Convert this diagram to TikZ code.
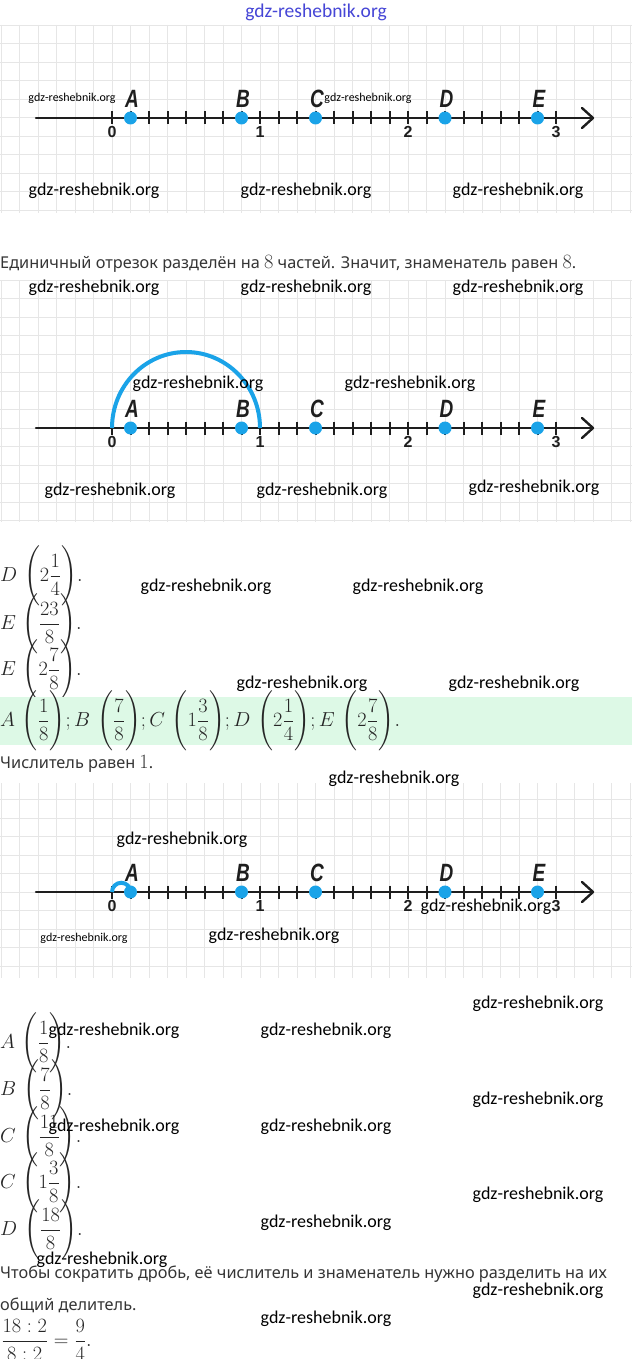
\RequirePackage{fix-cm}
\documentclass[tikz,border=0pt]{standalone}
\usepackage{amsmath}
\usepackage[no-math]{fontspec}
\newfontfamily\wmf{Carlito}
\newfontfamily\lblf{Liberation Sans}
\newfontfamily\ruf{Noto Sans}
\definecolor{dotblue}{HTML}{1AA3E8}
\definecolor{gridc}{HTML}{E6E6E6}
\definecolor{bandc}{HTML}{DDF9E6}
\definecolor{txtc}{HTML}{353535}
\definecolor{wmblue}{HTML}{4646D6}
\definecolor{axisc}{HTML}{1E1E1E}
\newcommand\mth[1]{\scalebox{1.16}{\fontsize{17.5}{18}\selectfont$#1$}}
\newcommand\mathbox[1]{\scalebox{1.16}{$#1$}}
\newcommand\numaxis[3]{%
  \coordinate (s#2) at (36,#1);
  \coordinate (e#2) at (593,#1);
  \coordinate (z#2) at (112,#1);
  \foreach \k in {0,...,24}{\draw[tickline] (112+18.5*\k,#1-6.5) -- (112+18.5*\k,#1+6.5);}
  \draw[axisline] (s#2) -- (e#2);
  \draw[axisline] ([shift={(-11,-10)}]e#2) -- (e#2) -- ([shift={(-11,10)}]e#2);
  \foreach \n in {0,1,2,3}{\node[numlbl] (n\n#2) at (112+148*\n,#1+14) {\n};}
  #3
  \foreach \p/\k in {A/1,B/7,C/11,D/18,E/23}{%
    \node[dotn] (\p#2) at (112+18.5*\k,#1) {};
    \node[ptlbl] (l\p#2) at (113.5+18.5*\k,#1-19.5) {\scalebox{0.76}[1]{\p}};
  }%
}
\newcommand\gridarea[3]{% top, bottom, axis y
  \begin{scope}
    \clip (0,#1) rectangle (632,#2);
    \foreach \k in {-7,...,28}{\draw[gridline] (112+18.5*\k,#1) -- (112+18.5*\k,#2);}
    \foreach \k in {-8,...,8}{\draw[gridline] (0,#3+18.5*\k) -- (632,#3+18.5*\k);}
  \end{scope}%
}
\begin{document}
\begin{tikzpicture}[x=1pt,y=-1pt,
  gridline/.style={draw=gridc, line width=1pt},
  axisline/.style={draw=axisc, line width=2.4pt, line cap=round, line join=round},
  tickline/.style={draw=axisc, line width=2pt},
  dotn/.style={circle, fill=dotblue, minimum size=13pt, inner sep=0},
  arcline/.style={draw=dotblue, line width=4pt},
  ptlbl/.style={font=\lblf\bfseries\itshape\fontsize{25}{25}\selectfont, text=axisc, inner sep=0},
  numlbl/.style={font=\lblf\bfseries\fontsize{16}{16}\selectfont, text=axisc, inner sep=0},
  wm/.style={font=\wmf\fontsize{18}{18}\selectfont, text=black, inner sep=0},
  wms/.style={font=\wmf\fontsize{12}{12}\selectfont, text=black, inner sep=0},
  rutxt/.style={font=\ruf\fontsize{16.3}{18}\selectfont, text=txtc, inner sep=0, anchor=base west},
  mathn/.style={font=\fontsize{17.5}{23}\selectfont, text=black!85, inner sep=0, anchor=west}]
\fill[white] (0,0) rectangle (632,1359);
\useasboundingbox (0,0) rectangle (632,1359);
% grids
\gridarea{25}{213}{118}
\gridarea{280}{522}{428}
\gridarea{783}{978}{892}
% number lines
\numaxis{118}{a}{}
\numaxis{428}{b}{\draw[arcline] (zb) arc[start angle=180,end angle=360,x radius=74,y radius=76];}
\numaxis{892}{c}{\draw[arcline] (zc) arc[start angle=180,end angle=360,radius=9.25];}
% texts
\node[rutxt] (t1) at (0,268) {Единичный отрезок разделён на \mth{8} частей. Значит, знаменатель равен \mth{8}.};
\node[mathn] (m1) at (0,576) {\mathbox{D\mkern6mu\Biggl(2\dfrac{1}{4}\Biggr).}};
\node[mathn] (m2) at (0,624) {\mathbox{E\mkern6mu\Biggl(\dfrac{23}{8}\Biggr).}};
\node[mathn] (m3) at (0,670) {\mathbox{E\mkern6mu\Biggl(2\dfrac{7}{8}\Biggr).}};
\node[fill=bandc, minimum width=632pt, minimum height=48pt, inner sep=0, anchor=north west] (band) at (0,697) {};
\node[mathn] (m4) at (0,721) {\mathbox{A\mkern6mu\Biggl(\dfrac{1}{8}\Biggr);B\mkern6mu\Biggl(\dfrac{7}{8}\Biggr);C\mkern6mu\Biggl(1\dfrac{3}{8}\Biggr);D\mkern6mu\Biggl(2\dfrac{1}{4}\Biggr);E\mkern6mu\Biggl(2\dfrac{7}{8}\Biggr).}};
\node[rutxt] (t2) at (0,768) {Числитель равен \mth{1}.};
\node[mathn] (m5) at (0,1043) {\mathbox{A\mkern6mu\Biggl(\dfrac{1}{8}\Biggr).}};
\node[mathn] (m6) at (0,1090) {\mathbox{B\mkern6mu\Biggl(\dfrac{7}{8}\Biggr).}};
\node[mathn] (m7) at (0,1137) {\mathbox{C\mkern6mu\Biggl(\dfrac{11}{8}\Biggr).}};
\node[mathn] (m8) at (0,1183) {\mathbox{C\mkern6mu\Biggl(1\dfrac{3}{8}\Biggr).}};
\node[mathn] (m9) at (0,1230) {\mathbox{D\mkern6mu\Biggl(\dfrac{18}{8}\Biggr).}};
\node[rutxt] (t3) at (0,1278) {Чтобы сократить дробь, её числитель и знаменатель нужно разделить на их};
\node[rutxt] (t4) at (0,1310) {общий делитель.};
\node[mathn] (m10) at (1,1340) {\mathbox{\dfrac{18:2}{8:2}=\dfrac{9}{4}.}};
% watermarks
\node[font=\wmf\fontsize{19.5}{20}\selectfont, text=wmblue, inner sep=0] (wtop) at (316,12) {gdz-reshebnik.org};
\node[wms] (w1) at (72,98) {gdz-reshebnik.org};
\node[wms] (w2) at (368,98) {gdz-reshebnik.org};
\node[wms] (w3) at (84,938) {gdz-reshebnik.org};
\foreach \x/\y [count=\i] in {94/191,306/191,518/191,94/288,306/288,518/288,198/384,410/384,110/491,322/491,534/488,206/587,418/587,302/684,514/684,394/779,182/840,486/907,274/936,538/1004,114/1031,326/1031,538/1100,114/1127,326/1127,538/1195,326/1223,102/1260,538/1291,326/1319}{\node[wm] (W\i) at (\x,\y) {gdz-reshebnik.org};}
\end{tikzpicture}
\end{document}
